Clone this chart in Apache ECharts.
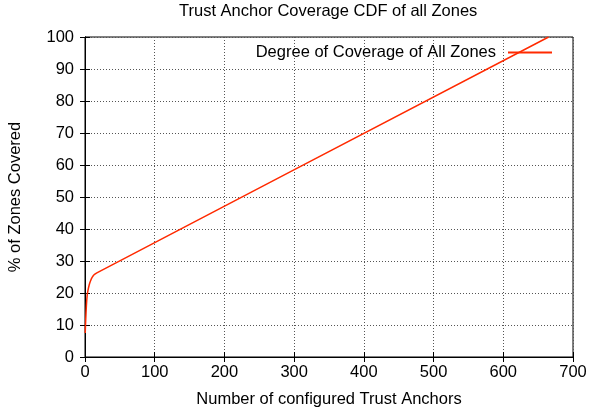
<!DOCTYPE html>
<html>
<head>
<meta charset="utf-8">
<script src="https://cdn.jsdelivr.net/npm/echarts@6/dist/echarts.min.js"></script>
<style>
html, body { margin: 0; padding: 0; background: #fff; }
#chart { width: 589px; height: 414px; }
</style>
</head>
<body>
<div id="chart"></div>
<script>
// Coverage CDF: number of trust anchors vs % of zones covered
const anchors = [0.3, 1, 2, 3, 4, 6, 8, 10, 13, 17, 665];
const coverage = [7.5, 11.5, 16, 19, 20.5, 22.5, 23.8, 24.8, 25.7, 26.3, 100];
const seriesName = "Degree of Coverage of All Zones";

const chart = echarts.init(document.getElementById("chart"));

const font = "Liberation Sans, Arial, sans-serif";
const fs = 16.5;
const gridLine = { show: true, lineStyle: { color: "#555", type: [1, 2], width: 1 } };

chart.setOption({
    animation: false,
    title: {
        text: "Trust Anchor Coverage CDF of all Zones",
        left: 174,
        top: -2,
        textStyle: { fontFamily: font, fontSize: fs, fontWeight: "normal", color: "#000" }
    },
    legend: {
        data: [seriesName],
        right: 32,
        top: 39,
        align: "right",
        itemWidth: 44,
        itemHeight: 10,
        icon: "path://M0,4 L44,4 L44,6 L0,6 Z",
        textStyle: { fontFamily: font, fontSize: fs, color: "#000", padding: [0, 7, 0, 0] }
    },
    grid: {
        left: 85, right: 16, top: 37, bottom: 57,
        outerBoundsMode: "none",
        containLabel: false,
        show: true, borderColor: "#000", borderWidth: 1
    },
    xAxis: [{
        type: "value",
        min: 0,
        max: 700,
        interval: 100,
        name: "Number of configured Trust Anchors",
        nameLocation: "middle",
        nameGap: 34,
        nameTextStyle: { fontFamily: font, fontSize: fs, color: "#000" },
        axisLine: { show: true, lineStyle: { color: "#000" } },
        axisTick: { show: true, inside: true, length: 5, lineStyle: { color: "#000" } },
        axisLabel: { fontFamily: font, fontSize: fs, color: "#000", margin: 7 },
        splitLine: gridLine
    }, {
        type: "value",
        position: "top",
        min: 0,
        max: 700,
        interval: 100,
        axisLine: { show: true, lineStyle: { color: "#000" } },
        axisTick: { show: true, inside: true, length: 5, lineStyle: { color: "#000" } },
        axisLabel: { show: false },
        splitLine: { show: false }
    }],
    yAxis: [{
        type: "value",
        min: 0,
        max: 100,
        interval: 10,
        name: "% of Zones Covered",
        nameLocation: "middle",
        nameGap: 61,
        nameTextStyle: { fontFamily: font, fontSize: fs, color: "#000" },
        axisLine: { show: true, lineStyle: { color: "#000" } },
        axisTick: { show: true, inside: true, length: 5, lineStyle: { color: "#000" } },
        axisLabel: { fontFamily: font, fontSize: fs, color: "#000", margin: 11 },
        splitLine: gridLine
    }, {
        type: "value",
        position: "right",
        min: 0,
        max: 100,
        interval: 10,
        axisLine: { show: true, lineStyle: { color: "#000" } },
        axisTick: { show: true, inside: true, length: 5, lineStyle: { color: "#000" } },
        axisLabel: { show: false },
        splitLine: { show: false }
    }],
    series: [{
        name: seriesName,
        type: "line",
        smooth: 0.3,
        showSymbol: false,
        data: anchors.map((x, i) => [x, coverage[i]]),
        lineStyle: { color: "#ff2a00", width: 1.5 },
        itemStyle: { color: "#ff2a00" }
    }]
});
</script>
</body>
</html>
